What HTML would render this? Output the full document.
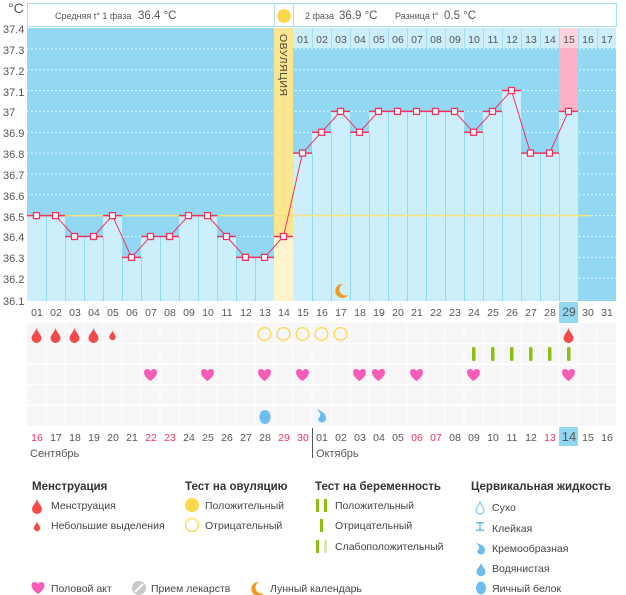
<!DOCTYPE html>
<html><head><meta charset="utf-8"><style>
body{margin:0;background:#fff}
svg{display:block;font-family:"Liberation Sans","DejaVu Sans",sans-serif}
.t{font-size:11px;fill:#555}
.d{font-size:10.5px;fill:#555;text-anchor:middle}
.r{fill:#f0345e}
.h{font-size:11.5px;font-weight:bold;fill:#333}
.l{font-size:10.5px;fill:#444}
</style></head><body>
<svg id="s" width="626" height="595" xmlns="http://www.w3.org/2000/svg">
<g id="g"></g>
<!-- header -->
<rect x="27.5" y="3.5" width="589" height="23" fill="#fff" stroke="#a5dcf0"/>
<line x1="274.5" y1="3" x2="274.5" y2="27" stroke="#a5dcf0"/>
<line x1="293.5" y1="3" x2="293.5" y2="27" stroke="#a5dcf0"/>
<circle cx="284" cy="16" r="7" fill="#fdd84a"/>
<text x="55" y="19" style="font-size:9px;fill:#555">Средняя t° 1 фаза</text>
<text x="138" y="19" style="font-size:11.5px;fill:#555">36.4 °C</text>
<text x="305" y="19" style="font-size:9px;fill:#555">2 фаза</text>
<text x="339" y="19" style="font-size:11.5px;fill:#555">36.9 °C</text>
<text x="395" y="19" style="font-size:9px;fill:#555">Разница t°</text>
<text x="444" y="19" style="font-size:11.5px;fill:#555">0.5 °C</text>
<text x="8" y="13" style="font-size:14px;fill:#555">°C</text>
<g class="t">
<text x="3" y="33">37.4</text><text x="3" y="54">37.3</text><text x="3" y="75">37.2</text><text x="3" y="96">37.1</text><text x="3" y="116">37</text><text x="3" y="137">36.9</text><text x="3" y="158">36.8</text><text x="3" y="179">36.7</text><text x="3" y="200">36.6</text><text x="3" y="221">36.5</text><text x="3" y="241">36.4</text><text x="3" y="262">36.3</text><text x="3" y="283">36.2</text><text x="3" y="305">36.1</text>
</g>
<text transform="translate(280,34) rotate(90)" style="font-size:10.5px;fill:#444;letter-spacing:0.5px">ОВУЛЯЦИЯ</text>
<g class="d">
<text x="303" y="43">01</text><text x="322" y="43">02</text><text x="341" y="43">03</text><text x="360" y="43">04</text><text x="379" y="43">05</text><text x="398" y="43">06</text><text x="417" y="43">07</text><text x="436" y="43">08</text><text x="455" y="43">09</text><text x="474" y="43">10</text><text x="493" y="43">11</text><text x="512" y="43">12</text><text x="531" y="43">13</text><text x="550" y="43">14</text><text x="569" y="43">15</text><text x="588" y="43">16</text><text x="607" y="43">17</text>
</g>
<g class="d">
<text x="37" y="316">01</text><text x="56" y="316">02</text><text x="75" y="316">03</text><text x="94" y="316">04</text><text x="113" y="316">05</text><text x="132" y="316">06</text><text x="151" y="316">07</text><text x="170" y="316">08</text><text x="189" y="316">09</text><text x="208" y="316">10</text><text x="227" y="316">11</text><text x="246" y="316">12</text><text x="265" y="316">13</text><text x="284" y="316">14</text><text x="303" y="316">15</text><text x="322" y="316">16</text><text x="341" y="316">17</text><text x="360" y="316">18</text><text x="379" y="316">19</text><text x="398" y="316">20</text><text x="417" y="316">21</text><text x="436" y="316">22</text><text x="455" y="316">23</text><text x="474" y="316">24</text><text x="493" y="316">25</text><text x="512" y="316">26</text><text x="531" y="316">27</text><text x="550" y="316">28</text><text x="569" y="316" style="font-size:12px">29</text><text x="588" y="316">30</text><text x="607" y="316">31</text>
</g>
<g class="d">
<text x="37" y="441" class="r">16</text><text x="56" y="441">17</text><text x="75" y="441">18</text><text x="94" y="441">19</text><text x="113" y="441">20</text><text x="132" y="441">21</text><text x="151" y="441" class="r">22</text><text x="170" y="441" class="r">23</text><text x="189" y="441">24</text><text x="208" y="441">25</text><text x="227" y="441">26</text><text x="246" y="441">27</text><text x="265" y="441">28</text><text x="284" y="441" class="r">29</text><text x="303" y="441" class="r">30</text><text x="322" y="441">01</text><text x="341" y="441">02</text><text x="360" y="441">03</text><text x="379" y="441">04</text><text x="398" y="441">05</text><text x="417" y="441" class="r">06</text><text x="436" y="441" class="r">07</text><text x="455" y="441">08</text><text x="474" y="441">09</text><text x="493" y="441">10</text><text x="512" y="441">11</text><text x="531" y="441">12</text><text x="550" y="441" class="r">13</text><text x="569" y="441" style="font-size:13px">14</text><text x="588" y="441">15</text><text x="607" y="441">16</text>
</g>
<line x1="312.5" y1="428" x2="312.5" y2="458" stroke="#555"/>
<text x="30" y="457" class="t">Сентябрь</text>
<text x="316" y="457" class="t">Октябрь</text>
<!-- legend -->
<text x="32" y="490" class="h">Менструация</text>
<text x="185" y="490" class="h">Тест на овуляцию</text>
<text x="315" y="490" class="h">Тест на беременность</text>
<text x="471" y="490" class="h">Цервикальная жидкость</text>
<text x="51" y="509" class="l">Менструация</text>
<text x="51" y="529" class="l">Небольшие выделения</text>
<text x="205" y="509" class="l">Положительный</text>
<text x="205" y="529" class="l">Отрицательный</text>
<text x="335" y="509" class="l">Положительный</text>
<text x="335" y="529" class="l">Отрицательный</text>
<text x="335" y="550" class="l">Слабоположительный</text>
<text x="492" y="511" class="l">Сухо</text>
<text x="492" y="532" class="l">Клейкая</text>
<text x="492" y="552" class="l">Кремообразная</text>
<text x="492" y="572" class="l">Водянистая</text>
<text x="492" y="592" class="l">Яичный белок</text>
<text x="51" y="592" class="l">Половой акт</text>
<text x="151" y="592" class="l">Прием лекарств</text>
<text x="270" y="592" class="l">Лунный календарь</text>
</svg>
<script>
var NS="http://www.w3.org/2000/svg",g=document.getElementById('g');
function e(t,a){var n=document.createElementNS(NS,t);for(var k in a)n.setAttribute(k,a[k]);g.appendChild(n);return n}
function Y(t){return 28+(37.4-t)*208.5}
function L(i){return 27+19*(i-1)}
var T=[36.5,36.5,36.4,36.4,36.5,36.3,36.4,36.4,36.5,36.5,36.4,36.3,36.3,36.4,36.8,36.9,37.0,36.9,37.0,37.0,37.0,37.0,37.0,36.9,37.0,37.1,36.8,36.8,37.0];
e('rect',{x:27,y:28,width:589,height:273,fill:'#93d8f2'});
for(var k=1;k<13;k++){var yy=Y(37.4-k/10);e('line',{x1:27,y1:yy,x2:616,y2:yy,stroke:'#fff','stroke-dasharray':'1.5 2.5','stroke-width':1});}
e('rect',{x:293,y:28,width:323,height:20,fill:'#cdeefb'});
e('rect',{x:559,y:28,width:19,height:20,fill:'#ffd3de'});
for(var i=16;i<=31;i++)e('line',{x1:L(i)+.5,y1:28,x2:L(i)+.5,y2:48,stroke:'#a5dcf0'});
e('rect',{x:559,y:48,width:19,height:Y(37)-48,fill:'#ffb1c6'});
for(var i=1;i<=29;i++){var y=Y(T[i-1]);
 if(i==14){e('rect',{x:L(i),y:28,width:19,height:y-28,fill:'#fbe58e'});e('rect',{x:L(i),y:y,width:19,height:301-y,fill:'#fdf3cc'});}
 else{e('rect',{x:L(i),y:y,width:19,height:301-y,fill:'#cdeefb'});}
}
for(var i=2;i<=30;i++){if(i==14||i==15)continue;var y=Math.max(Y(T[i-2]),Y(T[Math.min(i-1,28)]));if(i==30)y=Y(T[28]);e('line',{x1:L(i)+.5,y1:y,x2:L(i)+.5,y2:301,stroke:'#93d8f2'});}
e('line',{x1:27,y1:Y(36.5),x2:590,y2:Y(36.5),stroke:'#f7e27c','stroke-width':1.5});
var pts=[];for(var i=1;i<=29;i++){var y=Y(T[i-1]);e('line',{x1:L(i),y1:y,x2:L(i)+19,y2:y,stroke:'#f0345e','stroke-width':1.5});pts.push((L(i)+9.5)+','+y);}
e('polyline',{points:pts.join(' '),fill:'none',stroke:'#f0345e','stroke-width':1});
for(var i=1;i<=29;i++){var y=Y(T[i-1]);e('rect',{x:L(i)+6.5,y:y-3,width:6,height:6,fill:'#fff',stroke:'#f0345e','stroke-width':1.3});}
function moon(x,y){e('path',{d:'M'+(x+2)+','+(y-7)+' A7,7 0 1 0 '+(x+7)+','+(y+4)+' A6,6 0 0 1 '+(x+2)+','+(y-7)+'Z',fill:'#f39a1c'});}
moon(341,291);
e('rect',{x:27,y:323,width:589,height:103,fill:'#f6f6f8'});
for(var k=1;k<5;k++)e('line',{x1:27,y1:323+20.6*k,x2:616,y2:323+20.6*k,stroke:'#fff','stroke-width':1.5});
for(var i=2;i<=31;i++)e('line',{x1:L(i),y1:323,x2:L(i),y2:426,stroke:'#fff','stroke-width':1});
e('rect',{x:559,y:302,width:19,height:21,fill:'#93d8f2'});
e('rect',{x:559,y:427,width:19,height:19,fill:'#93d8f2'});
function drop(x,y,s,c){e('path',{d:'M0,-7 C1,-3 5,0 5,3 A5,5 0 0 1 -5,3 C-5,0 -1,-3 0,-7Z',fill:c||'#f34a4a',transform:'translate('+x+','+y+') scale('+s+')'});}
function heart(x,y){e('path',{d:'M0,5 C-9,-1 -7,-7 -3.5,-7 C-1.5,-7 0,-5.5 0,-4.5 C0,-5.5 1.5,-7 3.5,-7 C7,-7 9,-1 0,5Z',fill:'#f75cb8',transform:'translate('+x+','+y+')'});}
[1,2,3,4].forEach(function(i){drop(L(i)+9.5,335,1)});drop(L(5)+9.5,335,.65);drop(L(29)+9.5,335,1);
[13,14,15,16,17].forEach(function(i){e('circle',{cx:L(i)+9.5,cy:334,r:6.3,fill:'none',stroke:'#fdd84a','stroke-width':1.3})});
[24,25,26,27,28,29].forEach(function(i){e('rect',{x:L(i)+8,y:347,width:3.5,height:14,rx:1.5,fill:'#8cbf10'})});
[7,10,13,15,18,19,21,24,29].forEach(function(i){heart(L(i)+9.5,376)});
e('ellipse',{cx:265,cy:417,rx:5.5,ry:7,fill:'#6ebdf0'});
e('path',{d:'M317,409 C322,411 326,414 326,418 A4,4 0 0 1 318,419 C320,417 322,415 317,409Z',fill:'#6ebdf0'});
drop(37,506,1);drop(37,526,.65);
e('circle',{cx:192,cy:505,r:7,fill:'#fdd84a'});e('circle',{cx:192,cy:525,r:6.5,fill:'none',stroke:'#fdd84a','stroke-width':1.3});
e('rect',{x:316,y:499,width:3,height:13,fill:'#8cbf10'});e('rect',{x:324,y:499,width:3,height:13,fill:'#8cbf10'});
e('rect',{x:320,y:519,width:3,height:13,fill:'#8cbf10'});
e('rect',{x:316,y:540,width:3,height:13,fill:'#8cbf10'});e('rect',{x:324,y:540,width:3,height:13,fill:'#d8e8b0'});
e('path',{d:'M0,-6 C1,-3 4,0 4,2 A4,4 0 0 1 -4,2 C-4,0 -1,-3 0,-6Z',fill:'none',stroke:'#6ebdf0',transform:'translate(480,508)'});
e('path',{d:'M476,522 h8 v1.5 h-3 l-0.5,3 l0.5,3 h3 v1.5 h-8 v-1.5 h3 l0.5,-3 l-0.5,-3 h-3z',fill:'#6ebdf0'});
e('path',{d:'M476,543 C481,544 485,546 485,550 A4,4 0 0 1 477,551 C479,549 481,547 476,543Z',fill:'#6ebdf0'});
drop(481,569,.9,'#6ebdf0');
e('ellipse',{cx:481,cy:588,rx:5,ry:6.5,fill:'#6ebdf0'});
heart(38,589);
e('circle',{cx:139,cy:588,r:7,fill:'#c8c8c8'});e('line',{x1:135,y1:592,x2:143,y2:584,stroke:'#fff','stroke-width':2});
moon(257,589);
</script>
</body></html>
